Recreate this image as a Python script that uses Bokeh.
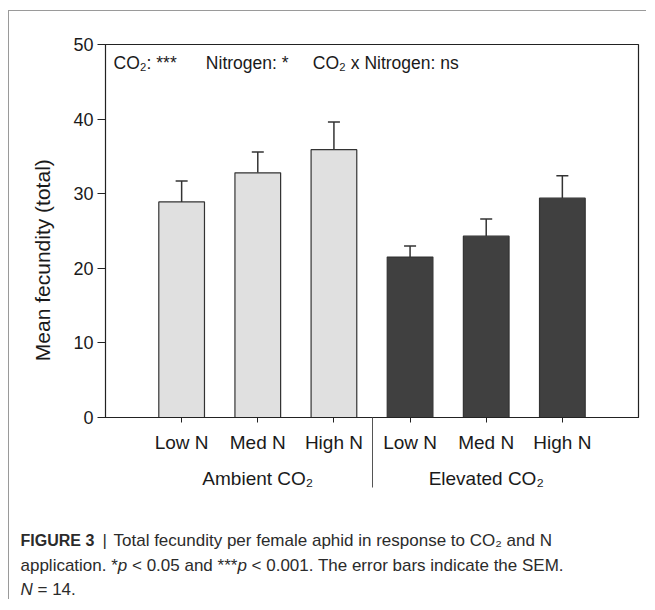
from bokeh.plotting import figure
from bokeh.models import (ColumnDataSource, FixedTicker, Whisker, TeeHead, LinearAxis,
                          Range1d, CustomJSTickFormatter)
from bokeh.core.properties import value
from bokeh.embed import file_html
from bokeh.resources import INLINE

# ---------------- data ----------------
nitrogen = ["Low N", "Med N", "High N", "Low N", "Med N", "High N"]
co2_group = ["Ambient CO₂", "Ambient CO₂", "Ambient CO₂",
             "Elevated CO₂", "Elevated CO₂", "Elevated CO₂"]
groups = ["Ambient CO₂", "Elevated CO₂"]
means = [28.9, 32.8, 35.9, 21.5, 24.3, 29.4]
sem = [2.8, 2.8, 3.7, 1.5, 2.3, 3.0]
y_ticks = [0, 10, 20, 30, 40, 50]
NB = "\u00a0"
stats_text = "CO₂: ***" + NB * 6 + "Nitrogen: *" + NB * 5 + "CO₂ x Nitrogen: ns"

# ---------------- geometry ----------------
W1, H1 = 638, 491
BL, BR, BT, BB = 96, 9, 33, 85
X0, X1 = -1, 6
Y0, Y1 = 0, 50

xs = list(range(len(means)))
colors = ["#e0e0e0" if g == groups[0] else "#404040" for g in co2_group]
src = ColumnDataSource(dict(x=xs, top=means, upper=[m + s for m, s in zip(means, sem)],
                            color=colors))

FONT = "Liberation Sans"
TXT = "#1a1a1a"

p = figure(width=W1, height=H1, x_range=Range1d(X0, X1), y_range=Range1d(Y0, Y1),
           output_backend="svg", toolbar_location=None,
           min_border_left=BL, min_border_right=BR, min_border_top=BT, min_border_bottom=BB)
p.xgrid.visible = False
p.ygrid.visible = False
p.outline_line_color = "#222222"
p.outline_line_width = 1.2
p.background_fill_color = "white"
p.border_fill_color = "white"
p.margin = (10, 0, 0, 8)
p.styles = {"border-left": "1px solid #9a9a9a", "border-top": "1px solid #9a9a9a"}

p.vbar(x="x", top="top", width=0.6, bottom=0, source=src, fill_color="color",
       line_color="#333333", line_width=1.2)
p.add_layout(Whisker(base="x", lower="top", upper="upper", source=src,
                     upper_head=TeeHead(size=12, line_color="#333333", line_width=1.5),
                     lower_head=None, line_color="#333333", line_width=1.5))

# stats annotation (inside frame)
p.text(x=[X0], y=[Y1], text=[stats_text], x_offset=8, y_offset=18,
       text_align="left", text_baseline="middle",
       text_font=value(FONT), text_font_size="17.5px", text_color=TXT)

# y axis
ya = p.yaxis[0]
ya.ticker = FixedTicker(ticks=y_ticks)
ya.minor_tick_line_color = None
ya.major_tick_out = 8
ya.major_tick_in = 0
ya.axis_line_color = "#222222"
ya.major_tick_line_color = "#222222"
ya.major_label_text_font = FONT
ya.major_label_text_font_size = "18px"
ya.major_label_text_color = TXT
ya.major_label_standoff = 4
ya.axis_label = "Mean fecundity (total)" + NB * 10
ya.axis_label_text_font = FONT
ya.axis_label_text_font_size = "21px"
ya.axis_label_text_font_style = "normal"
ya.axis_label_text_color = TXT
ya.axis_label_standoff = 16

# x axis: nitrogen labels; group separator drawn as a long minor tick
sep_x = (max(i for i, c in enumerate(co2_group) if c == groups[0]) +
         min(i for i, c in enumerate(co2_group) if c == groups[1])) / 2
SEP_LEN = 70
xa = p.xaxis[0]
xa.ticker = FixedTicker(ticks=xs, minor_ticks=[sep_x])
xa.formatter = CustomJSTickFormatter(args=dict(labels=nitrogen),
                                     code="const i = Math.round(tick); return labels[i] || '';")
xa.major_tick_out = 5
xa.major_tick_in = 0
xa.minor_tick_out = SEP_LEN
xa.minor_tick_in = 0
xa.minor_tick_line_color = "#555555"
xa.minor_tick_line_width = 1
xa.axis_line_color = "#222222"
xa.major_tick_line_color = "#222222"
xa.major_label_text_font = FONT
xa.major_label_text_font_size = "19px"
xa.major_label_text_color = TXT
xa.major_label_standoff = 14 - SEP_LEN

# second axis: CO2 group labels
centers = []
for g in groups:
    idx = [i for i, c in enumerate(co2_group) if c == g]
    centers.append(sum(idx) / len(idx))
ga = LinearAxis(ticker=FixedTicker(ticks=centers),
                formatter=CustomJSTickFormatter(args=dict(labels=groups, pos=centers),
                                                code="const i = pos.indexOf(tick); return i >= 0 ? labels[i] : '';"),
                axis_line_color=None, major_tick_line_color=None, minor_tick_line_color=None,
                major_tick_out=0, major_tick_in=0,
                major_label_text_font=FONT, major_label_text_font_size="19px",
                major_label_text_color=TXT, major_label_standoff=12)
p.add_layout(ga, "below")

# ---------------- caption figure (separate root, no frame alignment) ----------------
W2, H2 = 638, 98
c = figure(width=W2, height=H2, x_range=Range1d(0, W2), y_range=Range1d(H2, 0),
           x_axis_type=None, y_axis_type=None,
           output_backend="svg", toolbar_location=None, min_border=0)
c.grid.visible = False
c.outline_line_color = None
c.background_fill_color = "white"
c.border_fill_color = "white"
c.margin = (0, 0, 0, 8)
c.styles = {"border-left": "1px solid #9a9a9a"}

AW = {' ': 278, '\u00a0': 278, '*': 389, '.': 278, '<': 584, '=': 584, '|': 260, ':': 278,
      'A': 667, 'C': 722, 'E': 667, 'F': 611, 'G': 778, 'I': 278, 'M': 833, 'N': 722,
      'O': 778, 'R': 722, 'S': 667, 'T': 611, 'U': 722,
      'a': 556, 'b': 556, 'c': 500, 'd': 556, 'e': 556, 'f': 278, 'g': 556, 'h': 556,
      'i': 222, 'l': 222, 'm': 833, 'n': 556, 'o': 556, 'p': 556, 'r': 333, 's': 500,
      't': 278, 'u': 556, 'w': 722, 'x': 500, 'y': 500, 'v': 500}

def tw(s, size):
    return sum(AW.get(ch, 556) for ch in s) / 1000 * size

CAP_SIZE = 17
CAP_COL = "#2b2b2b"
# (text, style, fixed start in caption px or None to follow previous piece)
cap_lines = [
    [("FIGURE 3", "bold", 11), ("|", "normal", 93), ("Total fecundity per female aphid in response to CO₂ and N", "normal", 104)],
    [("application." + NB + "*", "normal", 11), ("p", "italic", None),
     (NB + "<" + NB + "0.05 and ***", "normal", None),
     ("p", "italic", None), (NB + "<" + NB + "0.001. The error bars indicate the SEM.", "normal", None)],
    [("N", "italic", 11), (NB + "=" + NB + "14.", "normal", None)],
]
cap_y = [39, 64, 88]
for line, cy in zip(cap_lines, cap_y):
    cx = 11
    for txt, style, start in line:
        if start is not None:
            cx = start
        size = 16 if style == "bold" else CAP_SIZE
        c.text(x=[cx], y=[cy], text=[txt], text_align="left", text_baseline="middle",
               text_font=value(FONT), text_font_size=f"{size}px",
               text_font_style=style, text_color=CAP_COL)
        cx += tw(txt, size)

open("out.html", "w").write(file_html([p, c], INLINE))
